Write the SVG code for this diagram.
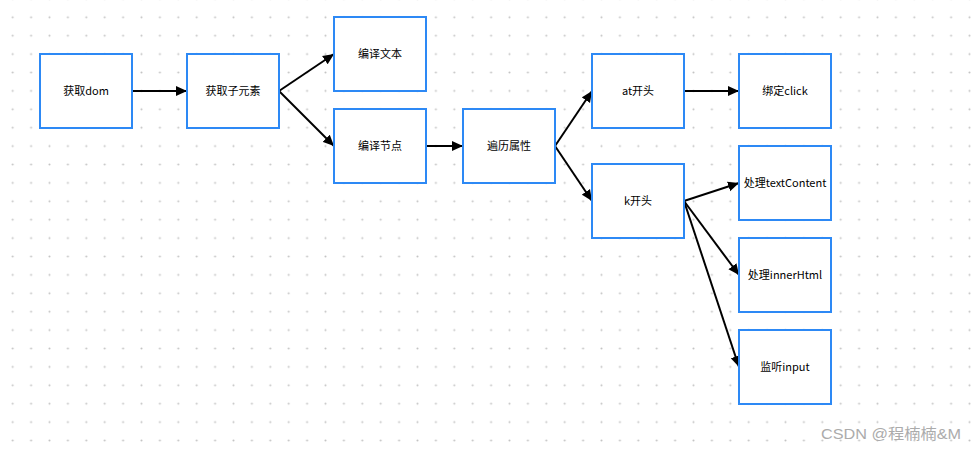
<svg xmlns="http://www.w3.org/2000/svg" width="976" height="451" viewBox="0 0 976 451">
<defs>
<pattern id="dots" patternUnits="userSpaceOnUse" x="3.5" y="8.1" width="18.4" height="18.4">
<circle cx="9.2" cy="9.2" r="1" fill="#c4c4c4"/>
</pattern>
<marker id="arr" markerUnits="userSpaceOnUse" markerWidth="12" markerHeight="11" refX="11" refY="5" orient="auto" viewBox="0 0 12 10">
<path d="M0,0 L11,5 L0,10 z" fill="#000"/>
</marker>
<style>
.box{fill:#fff;stroke:#2d89f5;stroke-width:2}
.lbl{font-family:"Noto Sans CJK SC","Liberation Sans",sans-serif;font-size:11px;fill:#000;text-anchor:middle;dominant-baseline:central}
.edge{stroke:#000;stroke-width:2;fill:none;marker-end:url(#arr)}
.wm{font-family:"Liberation Sans","Noto Sans CJK SC",sans-serif;font-size:15px;fill:#ababab}
</style>
</defs>
<rect width="976" height="451" fill="#fff"/>
<rect width="976" height="451" fill="url(#dots)"/>
<g id="connectors">
<line class="edge" x1="132" y1="91" x2="187" y2="91"/>
<line class="edge" x1="279" y1="91" x2="334" y2="54"/>
<line class="edge" x1="279" y1="91" x2="334" y2="146"/>
<line class="edge" x1="426" y1="146" x2="463" y2="146"/>
<line class="edge" x1="555" y1="146" x2="592" y2="91"/>
<line class="edge" x1="555" y1="146" x2="592" y2="201"/>
<line class="edge" x1="684" y1="91" x2="739" y2="91"/>
<line class="edge" x1="684" y1="201" x2="739" y2="183"/>
<line class="edge" x1="684" y1="201" x2="739" y2="275"/>
<line class="edge" x1="684" y1="201" x2="739" y2="367"/>
</g>
<g id="n1"><rect class="box" x="40" y="54" width="92" height="74"/><text class="lbl" x="86" y="89.5">获取dom</text></g>
<g id="n2"><rect class="box" x="187" y="54" width="92" height="74"/><text class="lbl" x="233" y="89.5">获取子元素</text></g>
<g id="n3"><rect class="box" x="334" y="17" width="92" height="74"/><text class="lbl" x="380" y="52.5">编译文本</text></g>
<g id="n4"><rect class="box" x="334" y="109" width="92" height="74"/><text class="lbl" x="380" y="144.5">编译节点</text></g>
<g id="n5"><rect class="box" x="463" y="109" width="92" height="74"/><text class="lbl" x="509" y="144.5">遍历属性</text></g>
<g id="n6"><rect class="box" x="592" y="54" width="92" height="74"/><text class="lbl" x="638" y="89.5">at开头</text></g>
<g id="n7"><rect class="box" x="739" y="54" width="92" height="74"/><text class="lbl" x="785" y="89.5">绑定click</text></g>
<g id="n8"><rect class="box" x="592" y="164" width="92" height="74"/><text class="lbl" x="638" y="199.5">k开头</text></g>
<g id="n9"><rect class="box" x="739" y="146" width="92" height="74"/><text class="lbl" x="785" y="181.5">处理textContent</text></g>
<g id="n10"><rect class="box" x="739" y="238" width="92" height="74"/><text class="lbl" x="785" y="273.5">处理innerHtml</text></g>
<g id="n11"><rect class="box" x="739" y="330" width="92" height="74"/><text class="lbl" x="785" y="365.5">监听input</text></g>
<text class="wm" x="821" y="439" textLength="140" lengthAdjust="spacingAndGlyphs">CSDN @程楠楠&amp;M</text>
</svg>
